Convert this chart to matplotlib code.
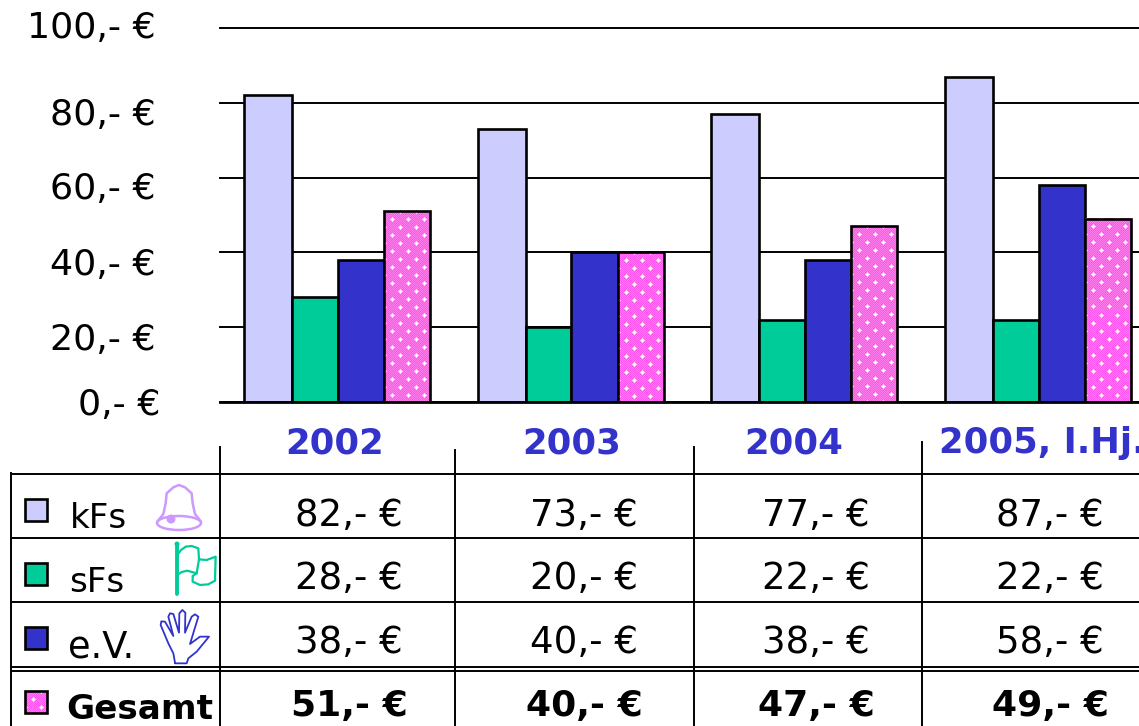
import numpy as np
import matplotlib
matplotlib.use("Agg")
import matplotlib.pyplot as plt
from matplotlib.patches import Rectangle, Circle, Ellipse

years = ["2002", "2003", "2004", "2005, I.Hj."]
series = ["kFs", "sFs", "e.V.", "Gesamt"]
kfs = [82, 73, 77, 87]
sfs = [28, 20, 22, 22]
ev = [38, 40, 38, 58]
gesamt = [51, 40, 47, 49]
yticks = [0, 20, 40, 60, 80, 100]

lila = "#ccccff"
gruen = "#00cc99"
blau = "#3333cc"
W, H = 1139, 726
plt.rcParams["font.family"] = "DejaVu Sans"


def euro(v):
    return str(v) + ",- €"


def muster(nx, ny):
    # pink with white diamonds, one array cell per pixel
    yy, xx = np.mgrid[0:ny, 0:nx]
    img = np.zeros((ny, nx, 3))
    img[..., 0] = 1.0
    img[..., 1] = np.where((xx + yy) % 2 == 0, 0.34, 0.48)
    img[..., 2] = 0.93
    d1 = np.minimum(xx % 16, 16 - xx % 16) + np.minimum(yy % 16, 16 - yy % 16)
    d2 = np.abs((xx % 16) - 8) + np.abs((yy % 16) - 8)
    d = np.minimum(d1, d2)
    img[d == 2] = (1.0, 0.8, 0.97)
    img[d <= 1] = 1.0
    return img


fig = plt.figure(figsize=(W / 100, H / 100), dpi=100)

# chart part
ax = fig.add_axes([220 / W, 1 - 402 / H, 919 / W, 374 / H])
x = np.arange(4)
g = 233.67
ax.bar(x, kfs, 48 / g, align="edge", color=lila, edgecolor="black", linewidth=1.9, zorder=3)
ax.bar(x + 48 / g, sfs, 45.5 / g, align="edge", color=gruen, edgecolor="black", linewidth=1.9, zorder=3)
ax.bar(x + 93.5 / g, ev, 46.5 / g, align="edge", color=blau, edgecolor="black", linewidth=1.9, zorder=3)
pink_bars = ax.bar(x + 140 / g, gesamt, 46 / g, align="edge", color="none",
                   edgecolor="black", linewidth=1.9, zorder=4)
for b in pink_bars:
    x0, h0, b_w = b.get_x(), b.get_height(), b.get_width()
    ax.imshow(muster(46, int(round(h0 * 3.74))), extent=(x0, x0 + b_w, 0, h0), aspect="auto",
              interpolation="nearest", zorder=3)
ax.set_xlim(-24 / g, 895 / g)
ax.set_ylim(0, 100)
ax.set_yticks(yticks)
ax.set_xticks([])
ax.tick_params(left=False, labelleft=False)
ax.grid(axis="y", color="black", linewidth=1.4, zorder=0, clip_on=False)
for s in ["left", "right", "top"]:
    ax.spines[s].set_visible(False)
ax.spines["bottom"].set_linewidth(2)
ax.spines["bottom"].set_zorder(5)

# overlay in pixels for the table below the chart
ov = fig.add_axes([0, 0, 1, 1], facecolor="none")
ov.set_xlim(0, W)
ov.set_ylim(H, 0)
ov.axis("off")

label_y = [415, 350, 275, 199, 125, 38]
label_x = [160, 156, 156, 156, 156, 156]
for v, px, py in zip(yticks, label_x, label_y):
    ov.text(px, py, euro(v), ha="right", va="baseline", fontsize=26.2)

year_x = [285, 522, 744, 939]
for name, px in zip(years, year_x):
    ov.text(px, 453, name, ha="left", va="baseline", fontsize=25.6,
            fontweight="bold", color=blau, clip_on=True)

# grid of the table
for yy in [474, 538, 602, 667, 671]:
    ov.plot([12, W], [yy, yy], color="black", lw=1.4, solid_capstyle="butt")
ov.plot([11, 11], [473, H], color="black", lw=1.4)
for xx, y0 in zip([220, 455, 694, 922], [447, 450, 447, 442]):
    ov.plot([xx, xx], [y0, H], color="black", lw=1.4)

col_x = [349, 584, 816, 1050]
row_base = [526, 589, 653, 716]
rows = [kfs, sfs, ev, gesamt]
text_x = [70, 69, 68, 66]
text_base = [528, 592, 657, 719]
text_size = [24.5, 24.5, 26.5, 24.7]
colors = [lila, gruen, blau]
for r in range(4):
    bold = "bold" if r == 3 else "normal"
    for c in range(4):
        ov.text(col_x[c], row_base[r], euro(rows[r][c]), ha="center", va="baseline",
                fontsize=26 if r == 3 else 26.7, fontweight=bold)
    ov.text(text_x[r], text_base[r], series[r], ha="left", va="baseline",
            fontsize=text_size[r], fontweight=bold)
    box_y = 499 + 64 * r
    if r == 3:
        ov.imshow(muster(22, 22), extent=(25, 47, box_y + 22, box_y), aspect="auto",
                  interpolation="nearest")
        ov.set_xlim(0, W)
        ov.set_ylim(H, 0)
        ov.add_patch(Rectangle((25, box_y), 22, 22, facecolor="none", edgecolor="black", lw=1.9))
    else:
        ov.add_patch(Rectangle((25, box_y), 22, 22, facecolor=colors[r], edgecolor="black", lw=1.9))


def strich(points, color, lw=1.5):
    pts = np.array(points, dtype=float)
    ov.plot(pts[:, 0] / 3, 440 + pts[:, 1] / 3, color=color, lw=lw,
            solid_joinstyle="round", solid_capstyle="round")


# bell
bell = "#cc99ff"
ov.add_patch(Ellipse((179, 523), 44, 14, facecolor="none", edgecolor=bell, lw=1.8))
strich([(472, 245), (490, 222), (497, 190), (500, 160), (520, 142), (537, 135), (555, 142),
        (575, 160), (578, 190), (585, 222), (603, 245)], bell, 1.8)
ov.add_patch(Circle((171, 519), 4.5, facecolor=bell, edgecolor="none"))

# flag
strich([(532, 315), (532, 462)], gruen, 2.8)
ov.add_patch(Circle((177, 544), 2.5, facecolor=gruen, edgecolor="none"))
strich([(532, 345), (543, 330), (557, 320), (575, 318), (595, 325), (597, 358), (620, 360), (647, 350),
        (645, 422), (625, 433), (600, 435), (578, 425), (578, 408), (590, 400), (597, 358)], gruen, 1.6)
strich([(532, 405), (545, 396), (562, 392), (590, 400)], gruen, 1.6)

# hand
strich([(525, 668), (520, 640), (505, 610), (482, 555), (484, 544), (495, 545), (520, 588), (505, 530),
        (510, 520), (520, 522), (537, 578), (538, 520), (547, 510), (556, 518), (555, 578), (575, 530),
        (585, 523), (595, 530), (570, 612), (600, 590), (627, 590), (590, 635), (565, 655), (560, 670),
        (525, 670)], blau, 1.3)

fig.savefig("out.png", dpi=100)
